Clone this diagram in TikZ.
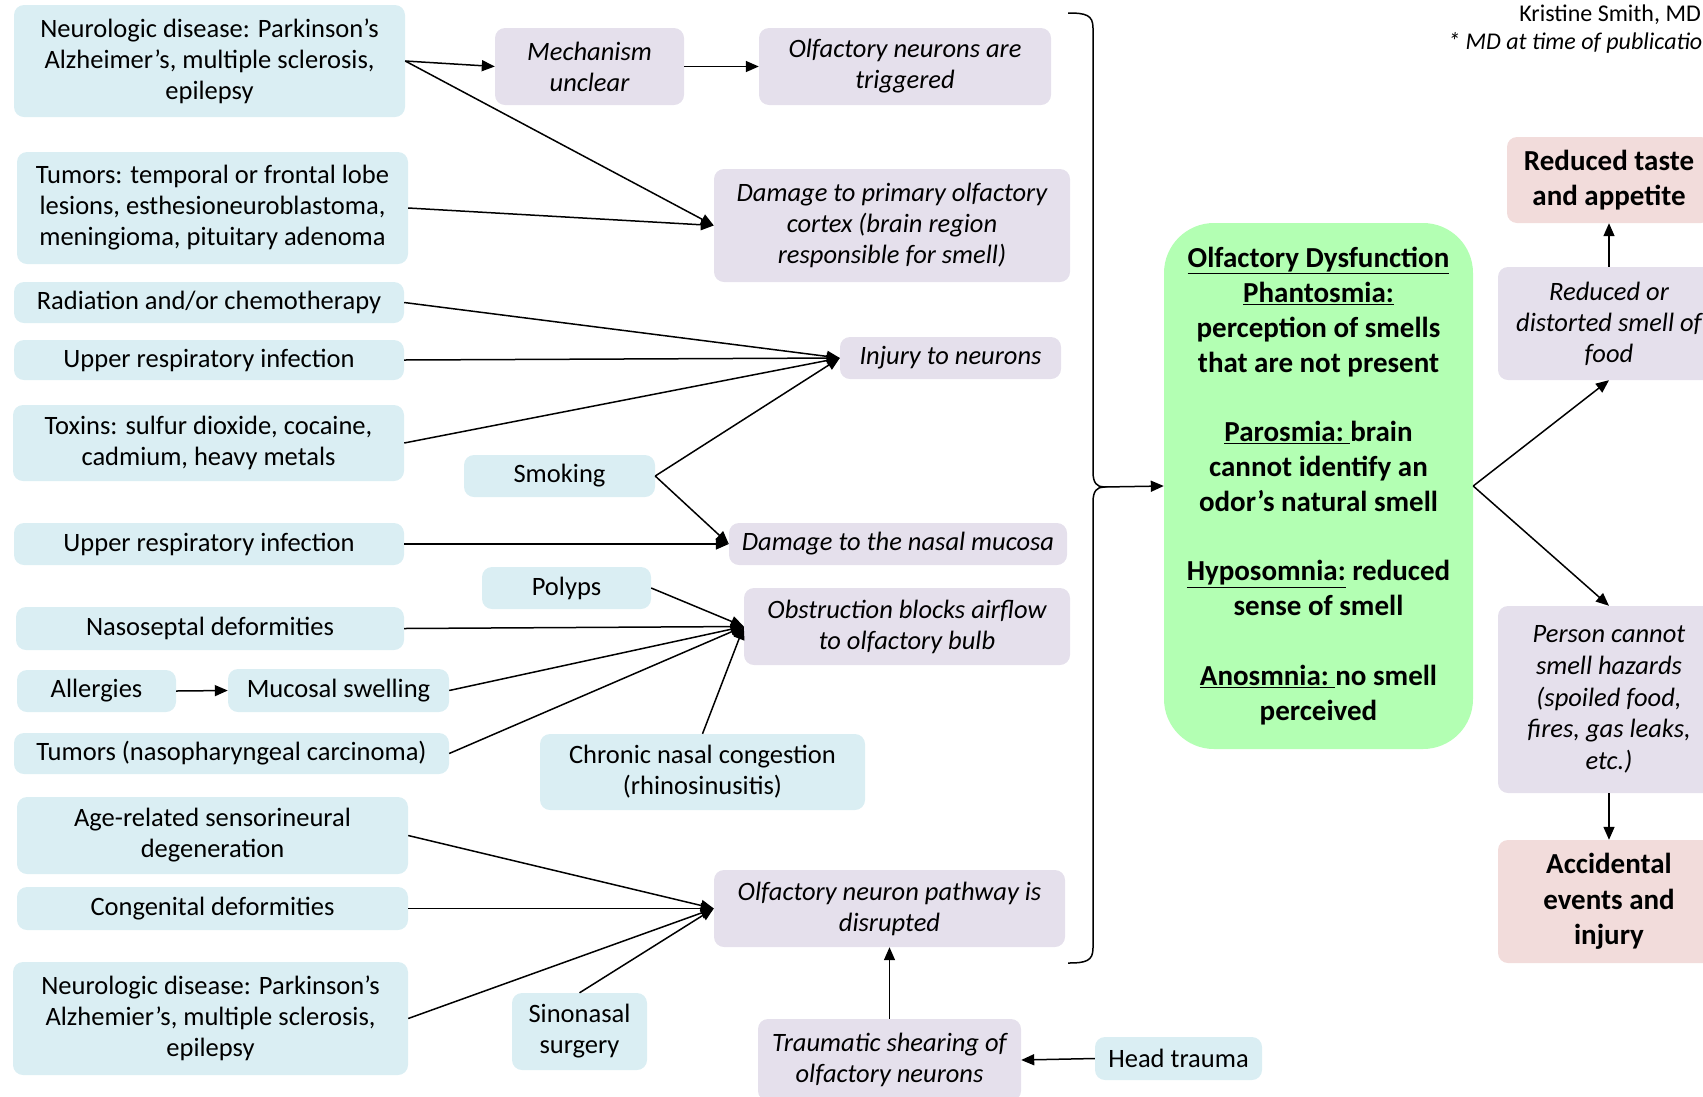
\documentclass[tikz,border=0pt]{standalone}
\usepackage{fontspec}
\setmainfont{Carlito}
\usetikzlibrary{arrows.meta}
\definecolor{causeblue}{HTML}{DAEEF3}
\definecolor{effectlav}{HTML}{E5E0EC}
\definecolor{outpink}{HTML}{F2DCDB}
\definecolor{coregreen}{HTML}{B3FFB3}

\begin{document}
\begin{tikzpicture}[x=1pt,y=-1pt,
  box/.style={rounded corners=10pt, inner sep=0pt, align=center,
    font=\fontsize{26.5}{31}\selectfont},
  wh/.style 2 args={minimum width=#1pt, minimum height=#2pt},
  cause/.style={box, fill=causeblue},
  effect/.style={box, fill=effectlav, font=\fontsize{26.5}{31}\selectfont\itshape},
  outcome/.style={box, fill=outpink, font=\fontsize{29}{34.5}\selectfont\bfseries},
  link/.style={line width=1.5pt, -{Triangle[length=13pt,width=11pt]}},
]
\useasboundingbox (0,0) rectangle (1703,1096);
\clip (0,0) rectangle (1703,1096);

% author line
\node[anchor=east, font=\fontsize{24}{28}\selectfont, inner sep=0pt] (author) at (1701,15) {Kristine Smith, MD};
\node[anchor=west, font=\fontsize{24}{28}\selectfont\itshape, inner sep=0pt] (note) at (1448,43) {* MD at time of publication};

% causes (left column)
\node[cause, wh={391}{112}] (neuroA) at (209.5,61) {Neurologic disease: Parkinson’s\\Alzheimer's, multiple sclerosis,\\epilepsy};
\node[cause, wh={391}{112}] (tumorsA) at (212.5,208) {Tumors: temporal or frontal lobe\\lesions, esthesioneuroblastoma,\\meningioma, pituitary adenoma};
\node[cause, wh={390}{41}] (radiation) at (209,302.5) {Radiation and/or chemotherapy};
\node[cause, wh={390}{40}] (uriA) at (209,360) {Upper respiratory infection};
\node[cause, wh={391}{76}] (toxins) at (208.5,443) {Toxins: sulfur dioxide, cocaine,\\cadmium, heavy metals};
\node[cause, wh={191}{42}] (smoking) at (559.5,476) {Smoking};
\node[cause, wh={390}{42}] (uriB) at (209,544) {Upper respiratory infection};
\node[cause, wh={169}{42}] (polyps) at (566.5,588) {Polyps};
\node[cause, wh={388}{43}] (septal) at (210,628.5) {Nasoseptal deformities};
\node[cause, wh={159}{42}] (allergies) at (96.5,691) {Allergies};
\node[cause, wh={221}{43}] (swelling) at (338.5,690.5) {Mucosal swelling};
\node[cause, wh={435}{41}] (tumorsB) at (231.5,753.5) {Tumors (nasopharyngeal carcinoma)};
\node[cause, wh={325}{76}] (chronic) at (702.5,772) {Chronic nasal congestion\\(rhinosinusitis)};
\node[cause, wh={391}{77}] (age) at (212.5,835.5) {Age-related sensorineural\\degeneration};
\node[cause, wh={391}{43}] (congenital) at (212.5,908.5) {Congenital deformities};
\node[cause, wh={395}{113}] (neuroB) at (210.5,1018.5) {Neurologic disease: Parkinson’s\\Alzhemier’s, multiple sclerosis,\\epilepsy};
\node[cause, wh={135}{77}] (sinonasal) at (579.5,1031.5) {Sinonasal\\surgery};
\node[cause, wh={167}{43}] (headtrauma) at (1178.5,1058.5) {Head trauma};

% mechanisms
\node[effect, wh={189}{77}] (mech) at (589.5,66.5) {Mechanism\\unclear};
\node[effect, wh={292}{77}] (trig) at (905,66.5) {Olfactory neurons are\\triggered};
\node[effect, wh={356}{113}] (cortex) at (892,225.5) {Damage to primary olfactory\\cortex (brain region\\responsible for smell)};
\node[effect, wh={221}{42}] (injury) at (950.5,358) {Injury to neurons};
\node[effect, wh={338}{42}] (mucosa) at (898,544) {Damage to the nasal mucosa};
\node[effect, wh={326}{77}] (obstruct) at (907,626.5) {Obstruction blocks airflow\\to olfactory bulb};
\node[effect, wh={351}{77}] (pathway) at (889.5,908.5) {Olfactory neuron pathway is\\disrupted};
\node[effect, wh={263}{82}] (shearing) at (889.5,1060) {Traumatic shearing of\\olfactory neurons};

% central condition
\node[box, fill=coregreen, rounded corners=50pt, wh={309}{526},
  font=\fontsize{29}{34.8}\selectfont\bfseries] (core) at (1318.5,486)
  {\underline{Olfactory Dysfunction}\\\underline{Phantosmia:}\\perception of smells\\that are not present\\[34.8pt]
   \underline{Parosmia:\ }brain\\cannot identify an\\odor’s natural smell\\[34.8pt]
   \underline{Hyposomnia:} reduced\\sense of smell\\[34.8pt]
   \underline{Anosmnia:\ }no smell\\perceived};

% consequences
\node[outcome, wh={204}{86}] (taste) at (1609,180) {Reduced taste\\and appetite};
\node[effect, wh={222}{113}] (smellfood) at (1609,323.5) {Reduced or\\distorted smell of\\food};
\node[effect, wh={222}{187}, font=\fontsize{26.5}{31.8}\selectfont\itshape] (hazards) at (1609,699.5) {Person cannot\\smell hazards\\(spoiled food,\\fires, gas leaks,\\etc.)};
\node[outcome, wh={222}{123}, font=\fontsize{29}{35.3}\selectfont\bfseries] (accident) at (1609,901.5) {Accidental\\events and\\injury};

% brace gathering all mechanisms
\draw[line width=1.5pt] (1068,13) .. controls (1086,13) and (1093,15) .. (1093,28)
  -- (1093,472) .. controls (1093,483) and (1097,487) .. (1104,487)
  .. controls (1097,487) and (1093,491) .. (1093,502)
  -- (1093,948) .. controls (1093,961) and (1086,963) .. (1068,963);
\coordinate (bracetip) at (1104,487);

% connectors
\draw[link] (neuroA.east) -- (mech.west);
\draw[link] (neuroA.east) -- (cortex.west);
\draw[link] (mech.east) -- (trig.west);
\draw[link] (tumorsA.east) -- (cortex.west);
\draw[link] (radiation.east) -- (injury.west);
\draw[link] (uriA.east) -- (injury.west);
\draw[link] (toxins.east) -- (injury.west);
\draw[link] (smoking.east) -- (injury.west);
\draw[link] (smoking.east) -- (mucosa.west);
\draw[link] (uriB.east) -- (mucosa.west);
\draw[link] (polyps.east) -- (obstruct.west);
\draw[link] (septal.east) -- (obstruct.west);
\draw[link] (swelling.east) -- (obstruct.west);
\draw[link] (tumorsB.east) -- (obstruct.west);
\draw[link] (chronic.north) -- (obstruct.west);
\draw[link] (allergies.east) -- (swelling.west);
\draw[link] (age.east) -- (pathway.west);
\draw[link] (congenital.east) -- (pathway.west);
\draw[link] (neuroB.east) -- (pathway.west);
\draw[link] (sinonasal.north) -- (pathway.west);
\draw[link] (shearing.north) -- (pathway.south);
\draw[link] (headtrauma.west) -- (shearing.east);
\draw[link] (bracetip) -- (core.west);
\draw[link] (core.east) -- (smellfood.south);
\draw[link] (core.east) -- (hazards.north);
\draw[link] (smellfood.north) -- (taste.south);
\draw[link] (hazards.south) -- (accident.north);
\end{tikzpicture}
\end{document}
